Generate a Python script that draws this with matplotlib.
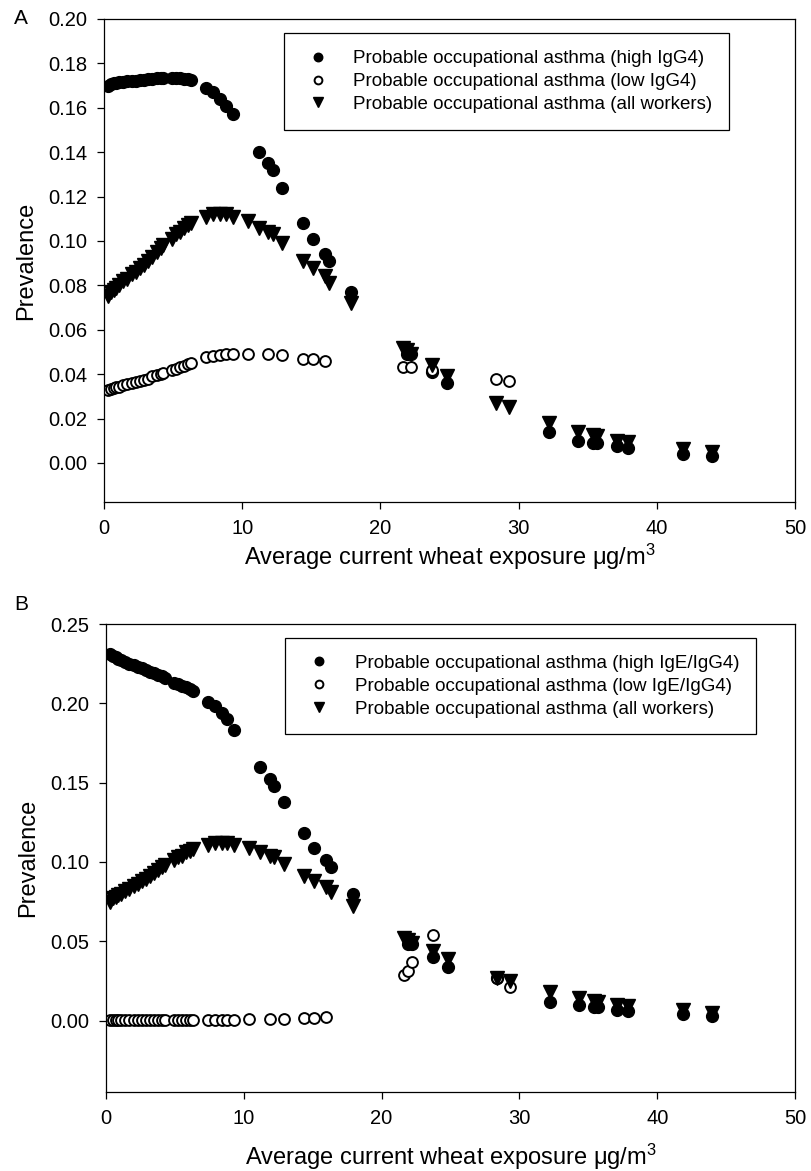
import matplotlib
matplotlib.use("Agg")
import matplotlib.pyplot as plt
import numpy as np

plt.rcParams['font.family'] = ['Liberation Sans', 'DejaVu Sans']
plt.rcParams['mathtext.default'] = 'regular'

nan = np.nan

# exposure values (ug/m3), shared by all series
exposure = [0.3, 0.5, 0.7, 0.9, 1.1, 1.4, 1.7, 2.0, 2.3, 2.6, 2.9, 3.2, 3.5, 3.8, 4.1, 4.3,
            4.9, 5.2, 5.5, 5.8, 6.1, 6.3, 7.4, 7.9, 8.4, 8.8, 9.3, 10.4, 11.2, 11.9, 12.2, 12.9,
            14.4, 15.1, 16.0, 16.3, 17.9, 21.6, 21.9, 22.2, 23.7, 24.8, 28.4, 29.3, 32.2, 34.3,
            35.4, 35.7, 37.1, 37.9, 41.9, 44.0]

# panel A
a_high_igg4 = [0.170, 0.1705, 0.171, 0.171, 0.1715, 0.1715, 0.172, 0.172, 0.1722, 0.1725, 0.1727,
               0.173, 0.173, 0.1732, 0.1733, 0.1733, 0.1735, 0.1735, 0.1733, 0.173, 0.1728, 0.1725,
               0.169, 0.167, 0.164, 0.161, 0.157, nan, 0.140, 0.135, 0.132, 0.124,
               0.108, 0.101, 0.094, 0.091, 0.077, nan, 0.049, 0.049, 0.041, 0.036, nan, nan, 0.014, 0.010,
               0.009, 0.009, 0.0075, 0.0068, 0.0042, 0.0033]
a_low_igg4 = [0.033, 0.0333, 0.0336, 0.034, 0.0343, 0.035, 0.0355, 0.036, 0.0365, 0.037, 0.0375,
              0.038, 0.039, 0.0395, 0.040, 0.0405, 0.042, 0.0425, 0.043, 0.0438, 0.0445, 0.045,
              0.0475, 0.048, 0.0485, 0.049, 0.049, 0.049, nan, 0.049, nan, 0.0485,
              0.047, 0.047, 0.046, nan, nan, 0.043, nan, 0.043, 0.042, nan, 0.038, 0.037, nan, nan,
              nan, nan, nan, nan, nan, nan]
all_workers = [0.075, 0.077, 0.078, 0.079, 0.080, 0.082, 0.083, 0.085, 0.086, 0.088, 0.089,
               0.091, 0.093, 0.095, 0.097, 0.098, 0.101, 0.103, 0.104, 0.106, 0.107, 0.108,
               0.111, 0.112, 0.112, 0.112, 0.111, 0.109, 0.106, 0.104, 0.103, 0.099,
               0.091, 0.088, 0.084, 0.081, 0.072, 0.052, 0.051, 0.049, 0.044, 0.039, 0.027, 0.025, 0.018, 0.014,
               0.0125, 0.012, 0.010, 0.0095, 0.0065, 0.005]

# panel B
b_high_ige = [0.231, 0.230, 0.229, 0.228, 0.227, 0.226, 0.225, 0.224, 0.223, 0.222, 0.221,
              0.220, 0.219, 0.218, 0.217, 0.216, 0.213, 0.212, 0.211, 0.210, 0.209, 0.208,
              0.201, 0.198, 0.194, 0.190, 0.183, nan, 0.160, 0.152, 0.148, 0.138,
              0.118, 0.109, 0.101, 0.097, 0.080, nan, 0.048, 0.048, 0.040, 0.034, 0.027, nan, 0.012, 0.010,
              0.0085, 0.0085, 0.0065, 0.006, 0.004, 0.003]
b_low_ige = [0.0005, 0.0005, 0.0005, 0.0005, 0.0005, 0.0005, 0.0005, 0.0005, 0.0005, 0.0005, 0.0005,
             0.0005, 0.0005, 0.0005, 0.0005, 0.0005, 0.0005, 0.0005, 0.0005, 0.0005, 0.0005, 0.0005,
             0.0005, 0.0005, 0.0005, 0.0005, 0.0005, 0.001, nan, 0.001, nan, 0.001,
             0.0015, 0.0015, 0.002, nan, nan, 0.029, 0.031, 0.037, 0.054, nan, 0.027, 0.021, nan, nan,
             nan, nan, nan, nan, nan, nan]

labels_a = ['Probable occupational asthma (high IgG4)',
            'Probable occupational asthma (low IgG4)',
            'Probable occupational asthma (all workers)']
labels_b = ['Probable occupational asthma (high IgE/IgG4)',
            'Probable occupational asthma (low IgE/IgG4)',
            'Probable occupational asthma (all workers)']

W, H = 812, 1171
fig = plt.figure(figsize=(W / 100, H / 100), dpi=100)


def panel(rect, high, low, labels, ylim, yticks, xpad):
    ax = fig.add_axes(rect)
    ax.plot(exposure, high, 'o', color='black', ms=8.5, ls='none', label=labels[0])
    ax.plot(exposure, low, 'o', mfc='white', mec='black', mew=1.4, ms=7.8, ls='none', label=labels[1])
    ax.plot(exposure, all_workers, 'v', color='black', ms=9.5, ls='none', label=labels[2])
    ax.set_xlim(0, 50)
    ax.set_ylim(*ylim)
    ax.set_xticks([0, 10, 20, 30, 40, 50])
    ax.set_yticks(yticks)
    ax.set_yticklabels(['%.2f' % v for v in yticks])
    ax.tick_params(direction='out', length=5, width=0.9, labelsize=14.5, pad=7,
                   top=False, right=False)
    for s in ax.spines.values():
        s.set_linewidth(0.9)
    ax.set_ylabel('Prevalence', fontsize=17, labelpad=8)
    ax.set_xlabel('Average current wheat exposure μg/m$^{3}$', fontsize=17, labelpad=xpad)
    leg = ax.legend(loc='upper left', bbox_to_anchor=(0.2605, 0.97), fontsize=13.5,
                    frameon=True, fancybox=False, edgecolor='black', framealpha=1,
                    borderpad=0.9, handlelength=1.8, handletextpad=1.0, labelspacing=0.3,
                    markerscale=0.72, borderaxespad=0)
    leg.get_frame().set_linewidth(0.9)
    return ax


ax_a = panel([104 / W, 1 - 502 / H, 691 / W, 483 / H], a_high_igg4, a_low_igg4, labels_a,
             (-0.0176, 0.20), [0.00, 0.02, 0.04, 0.06, 0.08, 0.10, 0.12, 0.14, 0.16, 0.18, 0.20], 3)
ax_b = panel([106 / W, 1 - 1092 / H, 689 / W, 468 / H], b_high_ige, b_low_ige, labels_b,
             (-0.045, 0.25), [0.00, 0.05, 0.10, 0.15, 0.20, 0.25], 10)

fig.text(14 / W, 1 - 18 / H, 'A', fontsize=15, va='center', ha='left')
fig.text(14 / W, 1 - 604 / H, 'B', fontsize=15, va='center', ha='left')

fig.savefig('out.png', dpi=100)
